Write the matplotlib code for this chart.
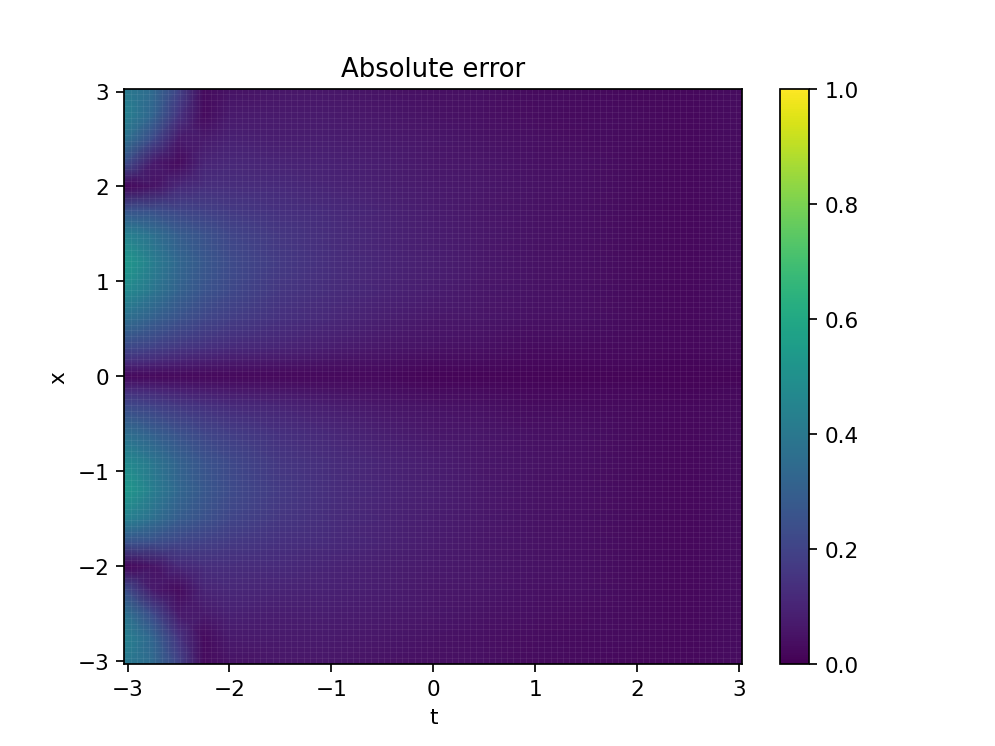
import numpy as np
import matplotlib
matplotlib.use("Agg")
import matplotlib.pyplot as plt

# grid nodes (t along x-axis, x along y-axis)
t_nodes = [-3.03, -2.75, -2.5, -2.25, -2.0, -1.5, -1.0, -0.5, 0.0, 0.5, 1.0, 1.5, 2.0, 2.5, 3.03]
x_half = [0.0, 0.15, 0.3, 0.6, 0.9, 1.2, 1.5, 1.75, 2.0, 2.25, 2.5, 2.75, 3.03]

# estimated absolute error for x >= 0 (rows: t_nodes, cols: x_half);
# the picture is symmetric in x, so the lower half mirrors this one
err_half = [
    [.02, .13, .22, .36, .48, .54, .44, .26, .02, .24, .38, .44, .41],
    [.02, .11, .19, .30, .39, .42, .36, .24, .05, .07, .22, .32, .34],
    [.02, .09, .16, .25, .31, .33, .29, .21, .11, .03, .07, .15, .20],
    [.02, .08, .14, .21, .26, .27, .25, .19, .13, .10, .07, .03, .03],
    [.02, .07, .12, .18, .22, .23, .21, .17, .13, .11, .09, .07, .05],
    [.02, .06, .10, .14, .16, .17, .16, .14, .12, .10, .08, .07, .06],
    [.02, .05, .08, .11, .125, .13, .125, .12, .10, .09, .08, .07, .06],
    [.02, .04, .06, .085, .10, .105, .10, .095, .085, .08, .07, .06, .05],
    [.01, .03, .05, .065, .08, .085, .08, .075, .07, .065, .06, .05, .04],
    [.01, .03, .04, .055, .06, .065, .065, .06, .06, .055, .05, .04, .04],
    [.01, .02, .03, .045, .05, .05, .05, .05, .05, .045, .04, .035, .03],
    [.01, .02, .03, .04, .04, .04, .04, .04, .04, .04, .035, .03, .03],
    [.01, .02, .025, .03, .03, .03, .03, .03, .03, .03, .03, .03, .02],
    [.01, .015, .02, .02, .02, .02, .02, .02, .02, .02, .02, .02, .02],
    [.01, .025, .03, .035, .035, .035, .035, .035, .035, .035, .035, .035, .035],
]

t = np.array(t_nodes)
xh = np.array(x_half)
x = np.concatenate([-xh[::-1], xh[1:]])
eh = np.array(err_half)
err = np.hstack([eh[:, ::-1], eh[:, 1:]])

fig = plt.figure(dpi=155.6)
ax = plt.gca()
mesh = ax.pcolormesh(t, x, err.T, shading='gouraud', cmap='viridis', vmin=0, vmax=1)

# faint seams of the original 100x100 mesh
edges = np.linspace(-3.03, 3.03, 101)[1:-1]
ax.vlines(edges, -3.03, 3.03, colors='white', alpha=0.07, lw=0.4)
ax.hlines(edges, -3.03, 3.03, colors='white', alpha=0.07, lw=0.4)

ax.set_xlim(-3.03, 3.03)
ax.set_ylim(-3.03, 3.03)
ax.set_title('Absolute error')
ax.set_xlabel('t')
ax.set_ylabel('x')
plt.colorbar(mesh)
plt.savefig('out.png', dpi=155.6)
